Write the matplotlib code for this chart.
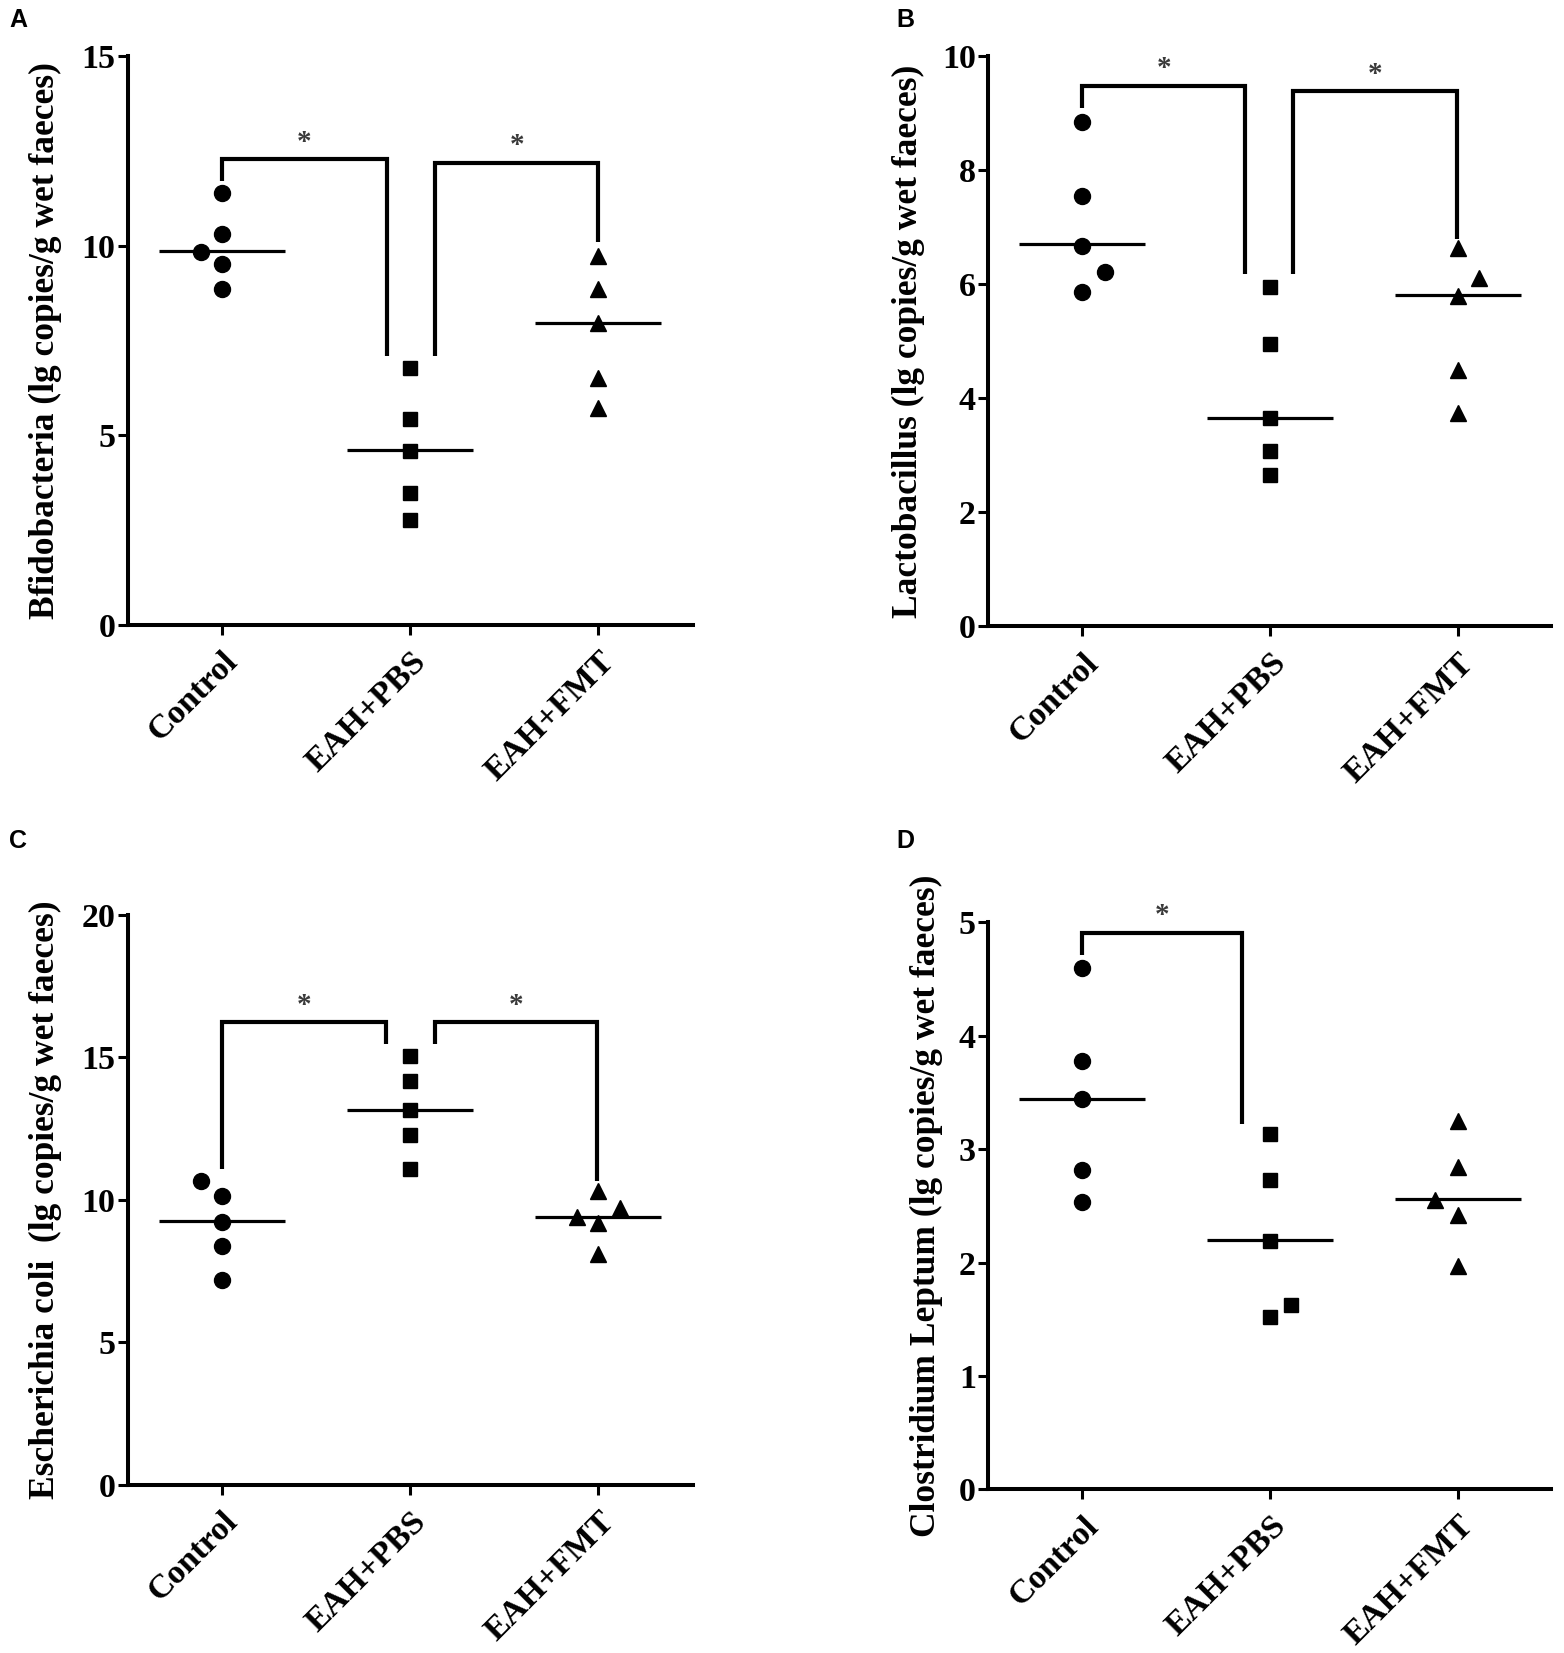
import matplotlib
matplotlib.use("Agg")
import matplotlib.pyplot as plt

# ---------------- data ----------------
groups = ["Control", "EAH+PBS", "EAH+FMT"]

# Panel A: Bifidobacteria
a_control = [11.38, 10.31, 9.84, 9.53, 8.85]
a_pbs = [6.77, 5.42, 4.58, 3.49, 2.76]
a_fmt = [9.74, 8.85, 7.97, 6.51, 5.73]
a_control_dodge = [0, 0, -0.114, 0, 0]
a_pbs_dodge = [0, 0, 0, 0, 0]
a_fmt_dodge = [0, 0, 0, 0, 0]

# Panel B: Lactobacillus
b_control = [8.85, 7.55, 6.68, 6.22, 5.87]
b_pbs = [5.96, 4.96, 3.66, 3.08, 2.66]
b_fmt = [6.63, 6.11, 5.80, 4.50, 3.75]
b_control_dodge = [0, 0, 0, 0.12, 0]
b_pbs_dodge = [0, 0, 0, 0, 0]
b_fmt_dodge = [0, 0.115, 0, 0, 0]

# Panel C: Escherichia coli
c_control = [10.67, 10.14, 9.24, 8.37, 7.19]
c_pbs = [15.04, 14.17, 13.15, 12.26, 11.10]
c_fmt = [10.30, 9.70, 9.40, 9.20, 8.10]
c_control_dodge = [-0.114, 0, 0, 0, 0]
c_pbs_dodge = [0, 0, 0, 0, 0]
c_fmt_dodge = [0, 0.112, -0.114, 0, 0]

# Panel D: Clostridium leptum
d_control = [4.60, 3.78, 3.44, 2.82, 2.53]
d_pbs = [3.13, 2.73, 2.19, 1.63, 1.52]
d_fmt = [3.25, 2.84, 2.55, 2.42, 1.97]
d_control_dodge = [0, 0, 0, 0, 0]
d_pbs_dodge = [0, 0, 0, 0.11, 0]
d_fmt_dodge = [0, 0, -0.12, 0, 0]

# group medians (horizontal lines)
a_median = [9.86, 4.61, 7.97]
b_median = [6.71, 3.66, 5.81]
c_median = [9.25, 13.15, 9.40]
d_median = [3.44, 2.20, 2.56]

# significance brackets: (x_left, x_right, y_top, y_left_end, y_right_end)
a_brackets = [(0, 0.874, 12.29, 11.72, 7.08), (1.131, 2.0, 12.19, 7.08, 10.10)]
b_brackets = [(0, 0.867, 9.48, 9.10, 6.18), (1.125, 1.995, 9.39, 6.18, 6.80)]
c_brackets = [(0, 0.869, 16.24, 11.10, 15.48), (1.131, 1.993, 16.24, 15.48, 10.68)]
d_brackets = [(0, 0.853, 4.91, 4.71, 3.22)]

a_ticks = [0, 5, 10, 15]
b_ticks = [0, 2, 4, 6, 8, 10]
c_ticks = [0, 5, 10, 15, 20]
d_ticks = [0, 1, 2, 3, 4, 5]

ylabels = [
    "Bfidobacteria (lg copies/g wet faeces)",
    "Lactobacillus (lg copies/g wet faeces)",
    "Escherichia coli  (lg copies/g wet faeces)",
    "Clostridium Leptum (lg copies/g wet faeces)",
]
panel_letters = ["A", "B", "C", "D"]

# ---------------- drawing ----------------
SERIF = ["Liberation Serif", "DejaVu Serif"]
fig = plt.figure(figsize=(15.64, 16.53), dpi=100)

positions = [
    [0.0818, 0.622, 0.361, 0.344],
    [0.632, 0.621, 0.360, 0.345],
    [0.0818, 0.1016, 0.361, 0.345],
    [0.632, 0.099, 0.360, 0.343],
]
label_x = [-0.117, -0.113, -0.117, -0.080]
letter_pos = [(0.006, 0.995), (0.573, 0.995), (0.006, 0.4985), (0.573, 0.4985)]

panels = [
    (a_control, a_pbs, a_fmt, a_control_dodge, a_pbs_dodge, a_fmt_dodge, a_median, a_brackets, a_ticks),
    (b_control, b_pbs, b_fmt, b_control_dodge, b_pbs_dodge, b_fmt_dodge, b_median, b_brackets, b_ticks),
    (c_control, c_pbs, c_fmt, c_control_dodge, c_pbs_dodge, c_fmt_dodge, c_median, c_brackets, c_ticks),
    (d_control, d_pbs, d_fmt, d_control_dodge, d_pbs_dodge, d_fmt_dodge, d_median, d_brackets, d_ticks),
]
markers = ["o", "s", "^"]
msizes = [11.5, 10.5, 11.5]

for i, (ctl, pbs, fmt, dc, dp, df, med, brs, ticks) in enumerate(panels):
    ax = fig.add_axes(positions[i])
    series = [ctl, pbs, fmt]
    dodges = [dc, dp, df]
    for g in range(3):
        xs = [g + d for d in dodges[g]]
        ax.plot(xs, series[g], linestyle="none", marker=markers[g],
                markersize=msizes[g], color="black", clip_on=False, zorder=3)
        ax.plot([g - 0.335, g + 0.335], [med[g], med[g]], color="black",
                lw=2.3, solid_capstyle="butt", zorder=2)
    for (xl, xr, yt, yl, yr) in brs:
        ax.plot([xl, xl, xr, xr], [yl, yt, yt, yr], color="black", lw=3.0,
                solid_joinstyle="miter", solid_capstyle="butt", clip_on=False)
        ax.text((xl + xr) / 2, yt + ticks[-1] * 0.006, "*", ha="center", va="bottom",
                fontsize=21, color="#3a3a3a", family=SERIF, fontweight="bold")
    ax.set_xlim(-0.5, 2.5)
    ax.set_ylim(0, ticks[-1])
    ax.set_yticks(ticks)
    ax.set_xticks(range(3))
    ax.set_xticklabels(groups, rotation=45, ha="right", rotation_mode="anchor",
                       family=SERIF, fontweight="bold", fontsize=24.5)
    ax.set_yticklabels([str(t) for t in ticks], family=SERIF, fontweight="bold", fontsize=24.5)
    for side in ["top", "right"]:
        ax.spines[side].set_visible(False)
    for side in ["left", "bottom"]:
        ax.spines[side].set_linewidth(2.9)
    ax.tick_params(axis="both", direction="out", length=7, width=2.2, pad=2)
    ax.tick_params(axis="x", pad=8)
    ax.set_ylabel(ylabels[i], family=SERIF, fontweight="bold", fontsize=25.5)
    ax.yaxis.set_label_coords(label_x[i], 0.5)
    fig.text(letter_pos[i][0], letter_pos[i][1], panel_letters[i], ha="left", va="top",
             fontsize=18, fontweight="bold", family=["Liberation Sans", "DejaVu Sans"])

fig.savefig("out.png", dpi=100, facecolor="white")
